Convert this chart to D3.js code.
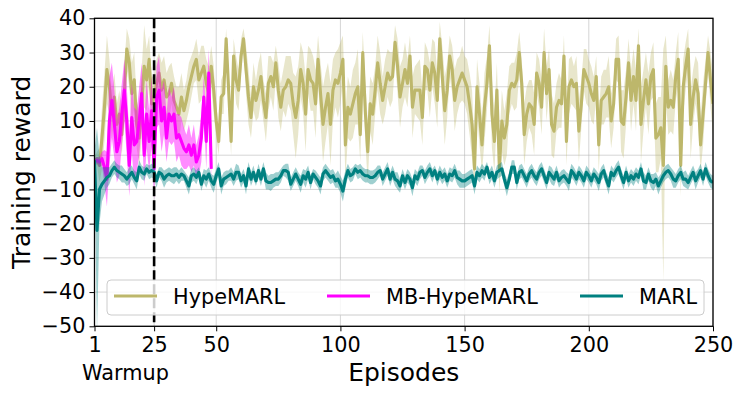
<!DOCTYPE html>
<html><head><meta charset="utf-8">
<script src="https://cdn.jsdelivr.net/npm/d3@7"></script>
<style>
body{margin:0;background:#fff}
svg{display:block}
text{font-family:"DejaVu Sans",sans-serif}
</style>
</head><body>
<svg id="chart" width="743" height="395"></svg>
<script>
// ---------------- DATA ----------------
const seriesNames = ["HypeMARL", "MB-HypeMARL", "MARL"];
const seriesColors = ["#bdb76b", "#ff00ff", "#008080"];
const xTicks = [1, 25, 50, 100, 150, 200, 250];
const yTicks = [40, 30, 20, 10, 0, -10, -20, -30, -40, -50];
const warmupEpisode = 25;

// HypeMARL mean reward per episode (1..250)
const hypeMean = [
 -1.5,-1,-3,5,14,25,20,12,17,9,
 12,6,18,31,27,18,22,9,5,15,
 26,22,28,15,17,21,24,19,22,17,
 18,21,16,14,12,17,13,16,20,23,
 26,28,22,24,26,21,18,26,19,10,
 4,17,18,34,19,4,29,22,19,29,
 34,25,17,11,20,16,19,23,16,11,
 21,23,20,27,19,14,19,20,22,21,
 15,11,16,25,21,12,25,22,21,15,
 28,18,9,14,18,9,19,22,21,24,
 28,3,14,12,15,18,20,6,30,13,
 1,15,12,19,27,21,16,20,24,22,
 23,33,26,17,21,25,21,29,14,19,
 19,19,11,26,25,19,27,24,16,34,
 23,13,19,29,25,16,20,22,24,22,
 20,15,9,-4,20,12,3,14,21,32,
 12,4,19,-4,10,5,9,19,21,20,
 22,30,21,6,12,15,14,9,24,21,
 14,30,18,25,9,7,14,16,15,29,
 4,20,22,20,21,7,15,25,23,21,
 18,16,23,3,16,17,18,20,10,15,
 28,28,10,9,17,27,16,23,16,32,
 9,16,22,15,23,25,5,6,8,-3,
 26,14,16,14,23,28,-3,20,26,31,
 9,17,22,18,3,12,21,30,22,15
];
const hypeSpread = [
 1,2,5,9,10,10,8,7,7,6,
 7,6,8,6,7,9,8,7,8,10,
 12,9,7,8,6,7,6,8,7,7,
 8,6,7,6,8,7,6,6,7,6,
 5,6,7,8,6,7,8,6,7,5,
 4,5,6,3,6,4,5,7,6,5,
 3,7,8,6,7,6,8,7,6,7,
 8,6,7,5,8,7,6,9,7,8,
 9,12,10,8,9,11,7,9,8,10,
 7,9,11,10,9,12,9,8,10,9,
 7,10,9,8,10,9,11,8,6,9,
 9,8,9,7,8,9,7,8,7,8,
 7,5,8,9,7,8,7,6,9,7,
 8,9,8,7,6,8,7,9,8,5,
 9,10,8,6,7,9,8,7,8,7,
 8,9,10,6,8,9,8,10,8,6,
 10,9,8,7,9,8,9,7,6,7,
 8,6,7,9,8,7,8,9,6,7,
 8,7,8,6,9,8,7,8,7,6,
 7,8,7,6,8,9,7,6,8,7,
 8,7,6,8,7,8,7,9,8,7,
 6,7,9,10,8,7,9,8,9,5,
 11,9,8,9,7,8,10,11,9,34,
 9,8,9,8,7,8,9,8,7,6,
 10,8,7,9,8,9,7,5,8,9
];

// MB-HypeMARL mean reward per episode (1..48)
const mbMean = [
 -2,-1.5,-2,-1,-3.5,-7,10,16,9,1,
 4,12,19,10,-3,11,3,4,10,18,
 0,12,4,13,-4,17,19,10,14,5,
 12,10,12,5,6,4,2,1,3,0,
 3,-2,0,5,17,4,24,-4
];
const mbSpread = [
 1,1,1.5,2,5,8,13,11,10,9,
 10,9,9,10,9,10,11,9,10,9,
 9,10,9,10,9,9,10,9,8,7,
 8,7,8,7,6,7,6,5,6,5,
 6,5,6,7,6,8,7,5
];

// MARL mean reward per episode (1..250)
const marlMean = [
 -1.5,-22,-10,-8.5,-7.5,-6.5,-6,-4.5,-3.5,-4.5,
 -5,-5.5,-6,-7,-6,-5,-6.5,-7.5,-3.5,-5,
 -5.5,-4,-5,-4.5,-5,-7.5,-5,-5.5,-7,-6,
 -5.5,-6,-6,-5.5,-6.5,-5.5,-6,-7.5,-9,-6,
 -5.5,-6.5,-5,-8.5,-6,-7,-5.5,-7.5,-8.5,-6,
 -4,-9,-7,-6.5,-6,-5.5,-7,-5,-5,-7.5,
 -6,-9,-4,-7,-5,-7.5,-4.5,-7,-4,-7.5,
 -8,-8,-7.5,-7,-7,-6,-4.5,-4.5,-5,-8.5,
 -7,-5.5,-7,-8.5,-6,-7,-5,-8,-5.5,-6.5,
 -7.5,-9,-5.5,-4.5,-5.5,-6.5,-6,-7.5,-7,-8.5,
 -10.5,-7,-4.5,-6,-5.5,-4,-5,-4.5,-5.5,-6,
 -6,-6.5,-6.5,-6,-5,-4.5,-7,-5.5,-4,-7,
 -5,-7,-7.5,-9,-6,-8,-6,-7,-9.5,-6,
 -7,-5,-4.5,-6.5,-5,-4,-6,-4.5,-7,-5,
 -6.5,-5.5,-7.5,-5.5,-6,-4.5,-6.5,-7,-7.5,-7.5,
 -7,-6.5,-6,-9,-5,-6,-4.5,-5.5,-3.5,-6.5,
 -5,-7.5,-5,-4.5,-4,-7,-9.5,-7,-3.5,-3.5,
 -8,-5,-4.5,-6,-7.5,-5.5,-4.5,-6,-7,-5,
 -4,-6,-8,-5,-6,-7,-5,-7.5,-6.5,-6,
 -7,-8,-4.5,-5.5,-7,-5,-6,-7.5,-5,-6,
 -7.5,-5.5,-6.5,-8,-5.5,-4.5,-7,-9,-5,-6,
 -4.5,-3.5,-6,-8,-5,-7.5,-6,-7,-5.5,-6.5,
 -4,-7.5,-8,-5.5,-7.5,-8,-7,-9,-7.5,-6,
 -5,-4.5,-5.5,-7,-7.5,-6,-5,-7,-7,-8,
 -6.5,-5,-7.5,-6,-4.5,-7,-4,-6,-7.5,-8
];
const marlSpread = [
 3,30,10,5,4,3,2.5,2,2,2,
 2,2.5,2,2,2.5,2,2,2.5,2,2,
 2,1.5,2,2,2,2,1.5,2,2.5,2,
 2,2,2.5,2,2,2,1.5,2,2.5,2,
 2,2,1.5,2,2,2.5,2,2,2.5,2,
 2,2.5,2,2,1.5,2,2,2.5,2,2,
 2,2.5,2,2,2,1.5,2,2,2,2.5,
 2,2.5,2,2,2,2,1.5,2,2.5,2,
 2,2,2,2.5,2,2.5,2,2,1.5,2,
 2,2.5,2,2,2,2,2,2,2.5,2.5,
 3,2.5,2,2,2,1.5,2,2,2,2,
 2,2,2,2,2,1.5,2,2,2,2,
 2,2,2.5,2,2,2,2,2,2.5,2,
 2,2,1.5,2,2,2,2,1.5,2,2,
 2,2,2,2,2,2,2,2.5,2,2,
 2,2,2,2.5,2,2,2,2,1.5,2,
 2,2,2,2,2,2,2.5,2,2,2,
 2,2,2,2,2,2,2,2,2,2,
 2,2,2,2,2.5,2,2,2,2,2,
 2,2.5,2,2,2,2,2,2,2,2,
 2,2,2,2.5,2,2,2,2.5,2,2,
 2,2,2,2,2,2,2,2,2,2,
 2,2.5,2,2,2,2.5,2,2.5,2,2,
 2,2,2,2.5,2,2,2,2,2.5,2,
 2,2,2.5,2,2,2,2,2,2,2
];

// ---------------- CHART ----------------
const svg = d3.select("#chart");
const L = 94.5, R = 713, T = 18.3, B = 326.3;
const x = d3.scaleLinear().domain([1, 250]).range([L, R]);
const y = d3.scaleLinear().domain([-50, 40]).range([B, T]);
const fmt = d => d < 0 ? "\u2212" + Math.abs(d) : String(d);

svg.append("defs").append("clipPath").attr("id", "plotclip")
  .append("rect").attr("x", L).attr("y", T).attr("width", R - L).attr("height", B - T);

// grid
const grid = svg.append("g");
grid.selectAll(".gy").data(yTicks).join("line")
  .attr("x1", L).attr("x2", R).attr("y1", d => y(d)).attr("y2", d => y(d))
  .attr("stroke", "#b0b0b0").attr("stroke-opacity", 0.6).attr("stroke-width", 0.9);
grid.selectAll(".gx").data(xTicks).join("line")
  .attr("y1", T).attr("y2", B).attr("x1", d => x(d)).attr("x2", d => x(d))
  .attr("stroke", "#b0b0b0").attr("stroke-opacity", 0.6).attr("stroke-width", 0.9);

const plot = svg.append("g").attr("clip-path", "url(#plotclip)");

function band(mean, spread) {
  return mean.map((m, i) => ({ ep: i + 1, m: m, lo: m - spread[i], hi: m + spread[i] }));
}
const area = d3.area().x(d => x(d.ep)).y0(d => y(d.lo)).y1(d => y(d.hi));
const line = d3.line().x(d => x(d.ep)).y(d => y(d.m));

const series = [
  { data: band(hypeMean, hypeSpread), color: seriesColors[0], op: 0.35 },
  { data: band(mbMean, mbSpread), color: seriesColors[1], op: 0.45 },
  { data: band(marlMean, marlSpread), color: seriesColors[2], op: 0.38 }
];
series.forEach(s => {
  plot.append("path").attr("d", area(s.data)).attr("fill", s.color).attr("fill-opacity", s.op);
  plot.append("path").attr("d", line(s.data)).attr("fill", "none")
    .attr("stroke", s.color).attr("stroke-width", 3.1).attr("stroke-linejoin", "round");
});

// warmup dashed line
svg.append("line").attr("x1", x(warmupEpisode)).attr("x2", x(warmupEpisode))
  .attr("y1", T).attr("y2", B).attr("stroke", "#000").attr("stroke-width", 2.6)
  .attr("stroke-dasharray", "10,4");

// axes
const yAxis = svg.append("g").attr("transform", `translate(${L},0)`)
  .call(d3.axisLeft(y).tickValues(yTicks).tickSize(5).tickPadding(4).tickFormat(fmt));
const xAxis = svg.append("g").attr("transform", `translate(0,${B})`)
  .call(d3.axisBottom(x).tickValues(xTicks).tickSize(5).tickPadding(6).tickFormat(fmt));
[yAxis, xAxis].forEach(g => {
  g.select(".domain").remove();
  g.selectAll("line").attr("stroke", "#000").attr("stroke-width", 1);
  g.selectAll("text").attr("font-size", "20.8px").attr("fill", "#000")
    .attr("font-family", "'DejaVu Sans', sans-serif");
});

// frame
svg.append("rect").attr("x", L).attr("y", T).attr("width", R - L).attr("height", B - T)
  .attr("fill", "none").attr("stroke", "#000").attr("stroke-width", 1.3);

// labels
svg.append("text").attr("x", (L + R) / 2).attr("y", 381).attr("text-anchor", "middle")
  .attr("font-size", "25px").text("Episodes");
svg.append("text").attr("transform", `translate(30,${(T + B) / 2}) rotate(-90)`)
  .attr("text-anchor", "middle").attr("font-size", "25px").text("Training reward");
svg.append("text").attr("x", 125.5).attr("y", 380).attr("text-anchor", "middle")
  .attr("font-size", "20.8px").text("Warmup");

// legend
const lg = svg.append("g");
lg.append("rect").attr("x", 107).attr("y", 280).attr("width", 597).attr("height", 35)
  .attr("rx", 4).attr("fill", "#fff").attr("fill-opacity", 0.8)
  .attr("stroke", "#cccccc").attr("stroke-width", 1);
const legendX = [114, 327, 580];
seriesNames.forEach((n, i) => {
  lg.append("line").attr("x1", legendX[i]).attr("x2", legendX[i] + 43)
    .attr("y1", 296).attr("y2", 296).attr("stroke", seriesColors[i]).attr("stroke-width", 3);
  lg.append("text").attr("x", legendX[i] + 59).attr("y", 303.5)
    .attr("font-size", "20.8px").text(n);
});
</script>
</body></html>
